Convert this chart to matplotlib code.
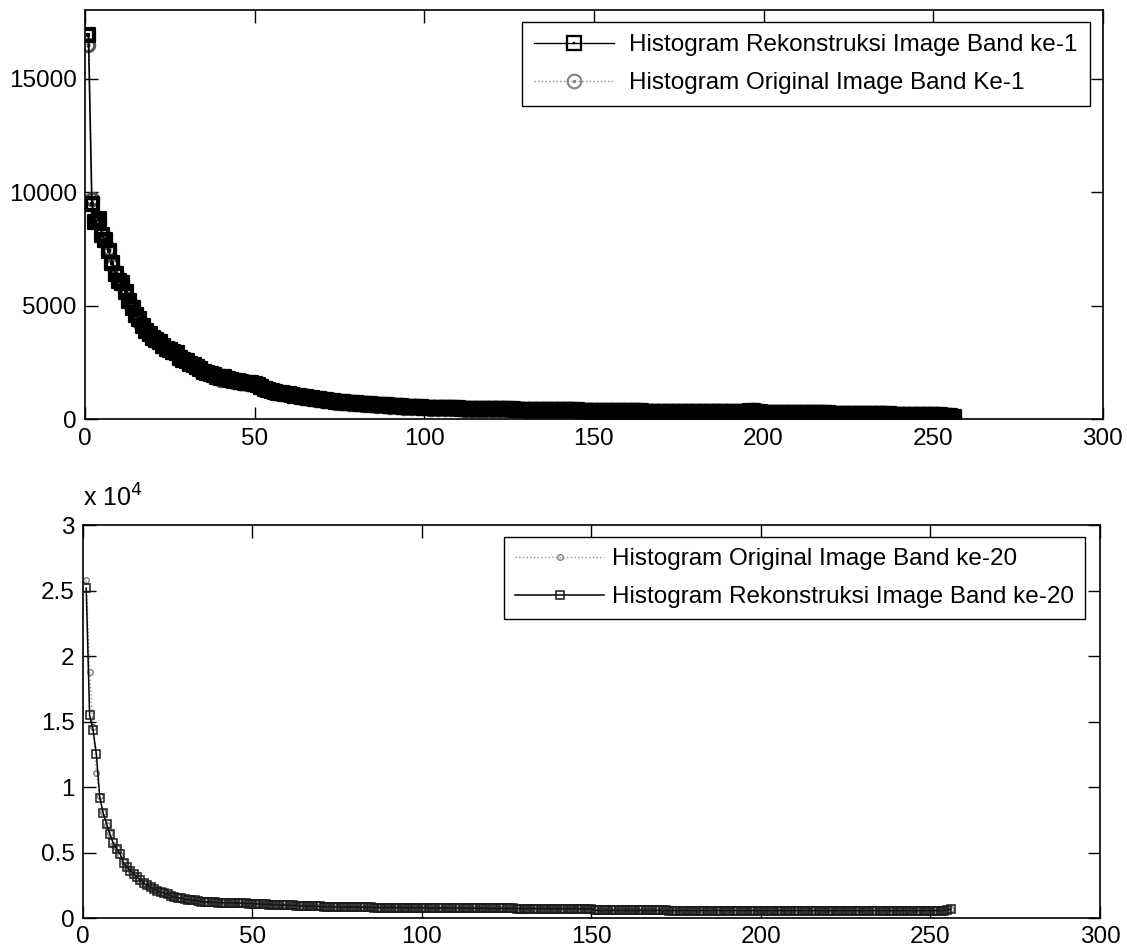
import matplotlib
matplotlib.use('Agg')
import matplotlib.pyplot as plt
import numpy as np
from matplotlib.lines import Line2D
from matplotlib.ticker import FuncFormatter

plt.rcParams['font.family'] = ['Liberation Sans', 'DejaVu Sans']

# gray levels 1..256
gray_level = np.arange(1, 257)

# band 1 histogram, reconstructed image
band1_rekon = [
    16900, 9500, 8700, 8800, 8100, 7900, 7400, 6900, 6400, 6100, 6000, 5600, 5200, 4900, 4600, 4400,
    4100, 3900, 3750, 3600, 3500, 3400, 3250, 3100, 3050, 2950, 2900, 2700, 2600, 2550, 2450, 2400,
    2300, 2200, 2100, 2050, 2000, 1950, 1850, 1800, 1850, 1780, 1750, 1700, 1680, 1650, 1620, 1600,
    1580, 1560, 1500, 1420, 1350, 1300, 1250, 1200, 1180, 1150, 1130, 1100, 1080, 1050, 1020, 1000,
    970, 950, 930, 910, 890, 870, 850, 830, 800, 780, 760, 750, 740, 720, 710, 700,
    690, 680, 670, 660, 650, 640, 630, 620, 610, 600, 590, 580, 570, 560, 550, 545,
    540, 530, 525, 520, 515, 510, 505, 500, 495, 490, 490, 485, 480, 480, 475, 470,
    470, 465, 460, 460, 455, 450, 450, 450, 445, 445, 440, 440, 435, 435, 430, 430,
    430, 425, 425, 420, 420, 420, 415, 415, 420, 410, 410, 405, 400, 400, 395, 390,
    390, 385, 385, 380, 380, 380, 375, 375, 370, 370, 365, 365, 360, 360, 360, 355,
    355, 350, 350, 350, 345, 345, 340, 340, 340, 335, 335, 330, 330, 330, 330, 325,
    325, 325, 320, 320, 320, 320, 315, 315, 315, 315, 310, 310, 310, 310, 305, 305,
    305, 310, 330, 360, 380, 340, 310, 300, 300, 295, 295, 290, 290, 290, 285, 285,
    280, 280, 280, 275, 275, 270, 270, 265, 265, 260, 260, 255, 255, 250, 250, 245,
    245, 240, 240, 235, 235, 230, 230, 225, 225, 220, 220, 215, 215, 210, 210, 205,
    205, 200, 200, 195, 195, 190, 190, 185, 185, 180, 175, 170, 160, 150, 130, 100,
]

# band 1 histogram, original image
band1_orig = [
    16500, 9700, 8800, 8700, 8200, 7800, 7500, 6800, 6500, 6000, 6100, 5500, 5300, 4800, 4700, 4300,
    4200, 3800, 3800, 3550, 3550, 3350, 3300, 3050, 3100, 2900, 2950, 2650, 2650, 2500, 2500, 2350,
    2350, 2150, 2150, 2000, 2050, 1900, 1900, 1750, 1900, 1730, 1800, 1650, 1720, 1600, 1660, 1560,
    1620, 1520, 1540, 1380, 1390, 1260, 1290, 1160, 1220, 1110, 1170, 1060, 1120, 1010, 1060, 960,
    1010, 910, 970, 870, 930, 830, 890, 790, 840, 740, 800, 710, 780, 680, 750, 660,
    730, 640, 710, 620, 690, 600, 670, 580, 650, 560, 630, 540, 610, 520, 590, 505,
    580, 490, 565, 480, 555, 470, 545, 460, 535, 450, 530, 445, 520, 440, 515, 430,
    510, 425, 500, 420, 495, 410, 490, 410, 485, 405, 480, 400, 475, 395, 470, 390,
    470, 385, 465, 380, 460, 380, 455, 375, 460, 370, 450, 365, 440, 360, 435, 350,
    430, 345, 425, 340, 420, 340, 415, 335, 410, 330, 405, 325, 400, 320, 400, 315,
    395, 310, 390, 310, 385, 305, 380, 300, 380, 295, 375, 290, 370, 290, 370, 285,
    365, 285, 360, 280, 360, 280, 355, 275, 355, 275, 350, 270, 350, 270, 345, 265,
    345, 270, 370, 320, 420, 300, 350, 260, 340, 255, 335, 250, 330, 250, 325, 245,
    320, 240, 320, 235, 315, 230, 310, 225, 305, 220, 300, 215, 295, 210, 290, 205,
    285, 200, 280, 195, 275, 190, 270, 185, 265, 180, 260, 175, 255, 170, 250, 165,
    245, 160, 240, 155, 235, 150, 230, 145, 225, 140, 215, 130, 200, 110, 170, 80,
]

# band 20 histogram, original image
band20_orig = [
    25800, 18800, 14600, 11100, 9300, 8100, 7100, 6500, 5600, 5350, 4800, 4300, 3850, 3650, 3350, 3150,
    2850, 2700, 2450, 2400, 2150, 2150, 1950, 1950, 1750, 1750, 1550, 1600, 1450, 1500, 1350, 1420,
    1300, 1340, 1200, 1270, 1180, 1240, 1150, 1220, 1130, 1200, 1110, 1190, 1100, 1170, 1080, 1150,
    1060, 1130, 1040, 1100, 1010, 1080, 990, 1060, 970, 1040, 950, 1030, 940, 1010, 920, 990,
    900, 970, 880, 940, 860, 920, 840, 900, 820, 890, 810, 880, 790, 870, 790, 860,
    780, 860, 770, 850, 770, 840, 760, 840, 760, 830, 750, 830, 750, 830, 740, 820,
    740, 820, 730, 810, 730, 810, 720, 800, 720, 800, 720, 790, 710, 790, 710, 790,
    710, 780, 700, 780, 700, 780, 700, 770, 690, 770, 690, 770, 690, 770, 690, 760,
    680, 760, 680, 760, 680, 760, 680, 760, 670, 750, 670, 750, 670, 750, 670, 750,
    670, 740, 660, 740, 660, 740, 600, 560, 600, 560, 600, 560, 600, 560, 600, 560,
    600, 555, 595, 555, 595, 555, 595, 555, 595, 555, 595, 555, 590, 550, 590, 550,
    590, 550, 590, 550, 590, 550, 590, 550, 590, 550, 590, 550, 590, 550, 585, 545,
    585, 545, 585, 545, 585, 545, 585, 545, 585, 545, 585, 545, 585, 545, 585, 545,
    585, 545, 585, 540, 580, 540, 580, 540, 580, 540, 580, 540, 580, 540, 580, 540,
    580, 540, 580, 540, 580, 540, 580, 540, 580, 540, 580, 540, 580, 540, 580, 540,
    580, 540, 580, 540, 580, 540, 580, 540, 580, 540, 580, 540, 580, 560, 620, 700,
]

# band 20 histogram, reconstructed image
band20_rekon = [
    25200, 15500, 14400, 12500, 9200, 8000, 7200, 6400, 5700, 5300, 4900, 4200, 3900, 3600, 3400, 3100,
    2900, 2650, 2500, 2350, 2200, 2100, 2000, 1900, 1800, 1700, 1600, 1550, 1500, 1450, 1400, 1380,
    1350, 1300, 1250, 1230, 1220, 1200, 1190, 1180, 1170, 1160, 1150, 1150, 1140, 1130, 1120, 1110,
    1100, 1090, 1080, 1060, 1050, 1040, 1030, 1020, 1010, 1000, 990, 980, 970, 960, 950, 940,
    930, 920, 910, 900, 890, 880, 870, 860, 850, 850, 840, 840, 830, 830, 830, 820,
    820, 820, 810, 810, 810, 800, 800, 800, 800, 790, 790, 790, 790, 790, 780, 780,
    780, 780, 770, 770, 770, 770, 760, 760, 760, 760, 760, 750, 750, 750, 750, 750,
    750, 740, 740, 740, 740, 740, 740, 730, 730, 730, 730, 730, 730, 730, 730, 720,
    720, 720, 720, 720, 720, 720, 720, 720, 710, 710, 710, 710, 710, 710, 710, 710,
    710, 700, 700, 700, 700, 700, 580, 580, 580, 580, 580, 580, 580, 580, 580, 580,
    580, 575, 575, 575, 575, 575, 575, 575, 575, 575, 575, 575, 570, 570, 570, 570,
    570, 570, 570, 570, 570, 570, 570, 570, 570, 570, 570, 570, 570, 570, 565, 565,
    565, 565, 565, 565, 565, 565, 565, 565, 565, 565, 565, 565, 565, 565, 565, 565,
    565, 565, 565, 560, 560, 560, 560, 560, 560, 560, 560, 560, 560, 560, 560, 560,
    560, 560, 560, 560, 560, 560, 560, 560, 560, 560, 560, 560, 560, 560, 560, 560,
    560, 560, 560, 560, 560, 560, 560, 560, 560, 560, 560, 560, 560, 570, 600, 680,
]

x_ticks = [0, 50, 100, 150, 200, 250, 300]
y1_ticks = [0, 5000, 10000, 15000]
y2_ticks = [0, 5000, 10000, 15000, 20000, 25000, 30000]

fig = plt.figure(figsize=(11.27, 9.52), dpi=100)
ax1 = fig.add_axes([0.0755, 0.5595, 0.903, 0.4295])
ax2 = fig.add_axes([0.0735, 0.0357, 0.9025, 0.4125])

# top plot: band 1 (heavy markers, they merge into a black band like the scan)
ax1.plot(gray_level, band1_orig, linestyle=':', color='#8a8a8a', linewidth=1,
         marker=r'$\odot$', markersize=10, markeredgewidth=1.2,
         markeredgecolor='#555555', zorder=2)
ax1.plot(gray_level, band1_rekon, linestyle='-', color='black', linewidth=1.2,
         marker=r'$\boxdot$', markersize=10, markeredgewidth=1.6,
         markeredgecolor='black', zorder=3)
leg1_handles = [
    Line2D([], [], color='black', linewidth=1, marker=r'$\boxdot$', markersize=11,
           markeredgewidth=0.2),
    Line2D([], [], color='#8a8a8a', linestyle=':', linewidth=1, marker=r'$\odot$',
           markersize=11, markeredgewidth=0.2, markeredgecolor='#555555'),
]
ax1.set_xlim(0, 300)
ax1.set_ylim(0, 18000)
ax1.set_xticks(x_ticks)
ax1.set_yticks(y1_ticks)
ax1.legend(leg1_handles,
           ['Histogram Rekonstruksi Image Band ke-1', 'Histogram Original Image Band Ke-1'],
           loc='upper right', fontsize=17.5, frameon=True, fancybox=False,
           edgecolor='black', framealpha=1, borderpad=0.5, handlelength=3.3,
           labelspacing=0.65, handletextpad=0.6, borderaxespad=0,
           bbox_to_anchor=(0.987, 0.971))

# bottom plot: band 20
ax2.plot(gray_level, band20_orig, linestyle=':', color='#a08c82', linewidth=1,
         marker='o', markersize=4, markerfacecolor='none', markeredgecolor='#8a7a72',
         label='Histogram Original Image Band ke-20', zorder=2)
ax2.plot(gray_level, band20_rekon, linestyle='-', color='black', linewidth=1.1,
         marker='s', markersize=6, markerfacecolor='none', markeredgecolor='#1a1a1a',
         markeredgewidth=1.1, label='Histogram Rekonstruksi Image Band ke-20', zorder=3)
ax2.set_xlim(0, 300)
ax2.set_ylim(0, 30000)
ax2.set_xticks(x_ticks)
ax2.set_yticks(y2_ticks)
ax2.yaxis.set_major_formatter(FuncFormatter(lambda v, p: '%g' % (v / 1e4)))
ax2.text(0.0, 1.035, r'x 10$^4$', transform=ax2.transAxes, fontsize=18,
         ha='left', va='bottom')
ax2.legend(loc='upper right', fontsize=17.5, frameon=True, fancybox=False,
           edgecolor='black', framealpha=1, borderpad=0.45, handlelength=3.7,
           labelspacing=0.65, handletextpad=0.3, borderaxespad=0,
           bbox_to_anchor=(0.985, 0.969))

for ax in (ax1, ax2):
    ax.tick_params(direction='in', top=True, right=True, length=9, width=1,
                   labelsize=17.5, pad=6)
    for s in ax.spines.values():
        s.set_linewidth(1.2)

fig.savefig('out.png', dpi=100)
